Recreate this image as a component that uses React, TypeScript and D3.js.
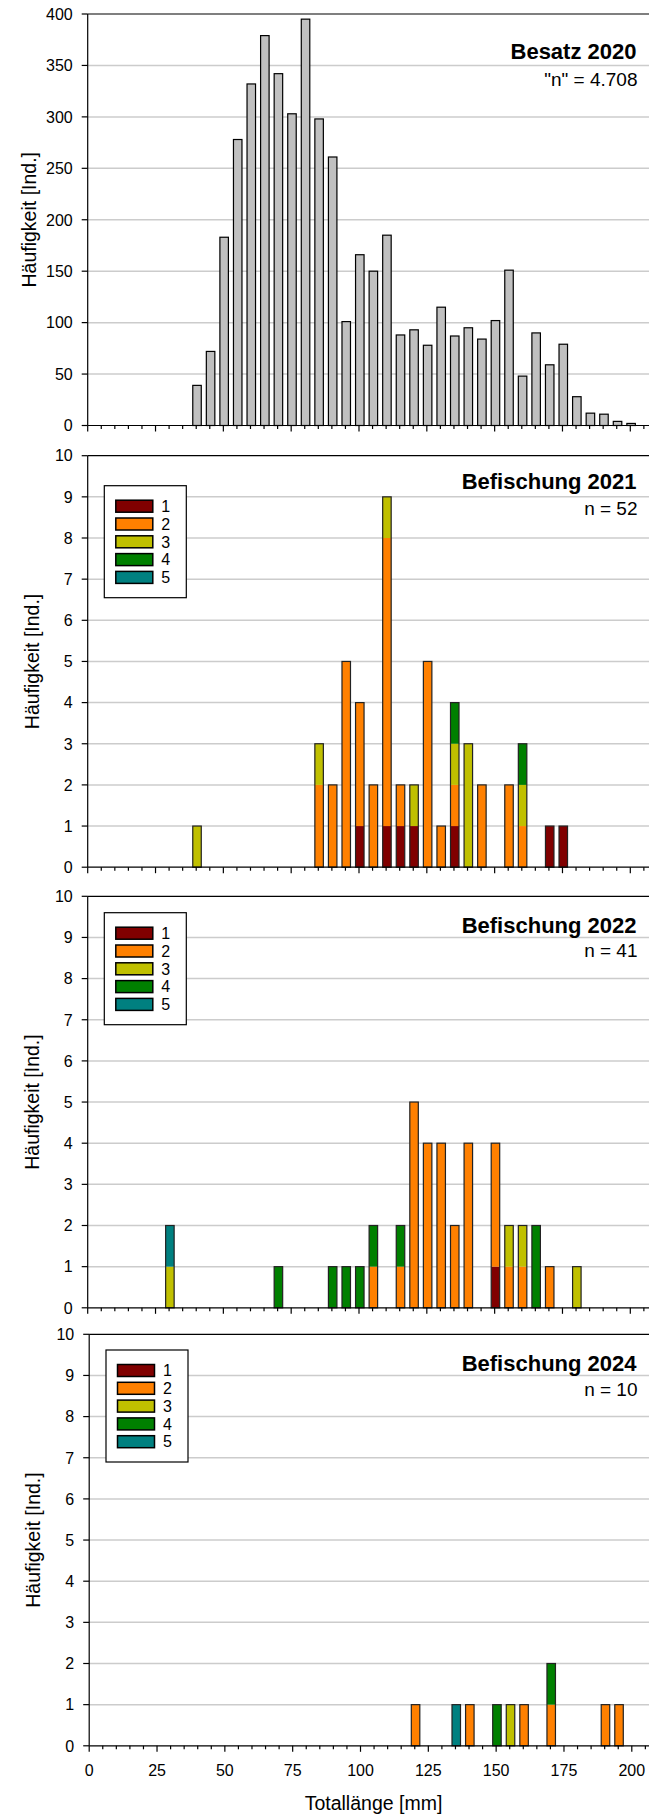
import React from 'react';
import * as d3 from 'd3';

// ---------- DATA ----------
const lengths2020 = [40, 45, 50, 55, 60, 65, 70, 75, 80, 85, 90, 95, 100, 105, 110, 115, 120, 125, 130, 135, 140, 145, 150, 155, 160, 165, 170, 175, 180, 185, 190, 195, 200];
const counts2020 = [39, 72, 183, 278, 332, 379, 342, 303, 395, 298, 261, 101, 166, 150, 185, 88, 93, 78, 115, 87, 95, 84, 102, 151, 48, 90, 59, 79, 28, 12, 11, 4, 2];

const lengths2021 = [40, 85, 90, 95, 100, 105, 110, 115, 120, 125, 130, 135, 140, 145, 155, 160, 170, 175];
const c1_2021 = [0, 0, 0, 0, 1, 0, 1, 1, 1, 0, 0, 1, 0, 0, 0, 0, 1, 1];
const c2_2021 = [0, 2, 2, 5, 3, 2, 7, 1, 0, 5, 1, 1, 0, 2, 2, 1, 0, 0];
const c3_2021 = [1, 1, 0, 0, 0, 0, 1, 0, 1, 0, 0, 1, 3, 0, 0, 1, 0, 0];
const c4_2021 = [0, 0, 0, 0, 0, 0, 0, 0, 0, 0, 0, 1, 0, 0, 0, 1, 0, 0];
const c5_2021 = [0, 0, 0, 0, 0, 0, 0, 0, 0, 0, 0, 0, 0, 0, 0, 0, 0, 0];

const lengths2022 = [30, 70, 90, 95, 100, 105, 115, 120, 125, 130, 135, 140, 150, 155, 160, 165, 170, 180];
const c1_2022 = [0, 0, 0, 0, 0, 0, 0, 0, 0, 0, 0, 0, 1, 0, 0, 0, 0, 0];
const c2_2022 = [0, 0, 0, 0, 0, 1, 1, 5, 4, 4, 2, 4, 3, 1, 1, 0, 1, 0];
const c3_2022 = [1, 0, 0, 0, 0, 0, 0, 0, 0, 0, 0, 0, 0, 1, 1, 0, 0, 1];
const c4_2022 = [0, 1, 1, 1, 1, 1, 1, 0, 0, 0, 0, 0, 0, 0, 0, 2, 0, 0];
const c5_2022 = [1, 0, 0, 0, 0, 0, 0, 0, 0, 0, 0, 0, 0, 0, 0, 0, 0, 0];

const lengths2024 = [120, 135, 140, 150, 155, 160, 170, 190, 195];
const c1_2024 = [0, 0, 0, 0, 0, 0, 0, 0, 0];
const c2_2024 = [1, 0, 1, 0, 0, 1, 1, 1, 1];
const c3_2024 = [0, 0, 0, 0, 1, 0, 0, 0, 0];
const c4_2024 = [0, 0, 0, 1, 0, 0, 1, 0, 0];
const c5_2024 = [0, 1, 0, 0, 0, 0, 0, 0, 0];

const classKeys = ['1', '2', '3', '4', '5'];
const classColors = ['#800000', '#FF8000', '#C0C000', '#008000', '#008080'];

const yTicks2020 = [0, 50, 100, 150, 200, 250, 300, 350, 400];
const yTicksCatch = [0, 1, 2, 3, 4, 5, 6, 7, 8, 9, 10];
const xTickLabels = [0, 25, 50, 75, 100, 125, 150, 175, 200];
const xMinorStep = 5;

const titles = ['Besatz 2020', 'Befischung 2021', 'Befischung 2022', 'Befischung 2024'];
const nLabels = ['"n" = 4.708', 'n = 52', 'n = 41', 'n = 10'];
const yAxisTitle = 'Häufigkeit [Ind.]';
const xAxisTitle = 'Totallänge [mm]';

// ---------- LAYOUT ----------
const W = 649;
const H = 1816;
const X_MAX = 210;
const PX_PER_MM = 2.713;
const PLOT_H = 411.5;
const FONT = '"Liberation Sans", Arial, Helvetica, sans-serif';
const BAR_W = 8.5;

const layout = [
  { top: 14, left: 87.7, titleDy: 45.3, nDy: 72, yTitleX: 28.5, legendDy: 0, legendLeft: 0 },
  { top: 455.7, left: 87.7, titleDy: 33.3, nDy: 59.3, yTitleX: 32.3, legendDy: 30, legendLeft: 104.3 },
  { top: 896.3, left: 87.7, titleDy: 36.4, nDy: 61, yTitleX: 32.3, legendDy: 16.4, legendLeft: 104.3 },
  { top: 1334.3, left: 89.2, titleDy: 36.4, nDy: 61.4, yTitleX: 33, legendDy: 15.7, legendLeft: 106 },
];

function xScaleFor(left: number) {
  return d3.scaleLinear().domain([0, X_MAX]).range([left, left + X_MAX * PX_PER_MM]);
}

function Frame({ idx, y, yTicks }: any) {
  const L = layout[idx];
  return (
    <g>
      {yTicks.slice(1, -1).map((t: number) => (
        <line key={'g' + t} x1={L.left} x2={W} y1={y(t)} y2={y(t)} stroke="#cccccc" strokeWidth={1.5} />
      ))}
      <line x1={L.left} x2={W} y1={L.top} y2={L.top} stroke="#000" strokeWidth={1.2} />
    </g>
  );
}

function Axes({ idx, x, y, yTicks, showXLabels }: any) {
  const L = layout[idx];
  const bottom = L.top + PLOT_H;
  const minor = d3.range(0, X_MAX + 1, xMinorStep);
  return (
    <g fontFamily={FONT}>
      <line x1={L.left} x2={L.left} y1={L.top} y2={bottom} stroke="#000" strokeWidth={1.2} />
      <line x1={L.left} x2={W} y1={bottom} y2={bottom} stroke="#000" strokeWidth={1.2} />
      {yTicks.map((t: number) => (
        <g key={'yt' + t}>
          <line x1={L.left - 6} x2={L.left} y1={y(t)} y2={y(t)} stroke="#000" strokeWidth={1.2} />
          <text x={L.left - 15} y={y(t)} dy="0.36em" textAnchor="end" fontSize={16} fill="#000">{t}</text>
        </g>
      ))}
      {minor.map((m: number) => (
        <line key={'xt' + m} x1={x(m)} x2={x(m)} y1={bottom} y2={bottom + (m % 25 === 0 ? 6 : 3.5)} stroke="#000" strokeWidth={1.2} />
      ))}
      {showXLabels && xTickLabels.map((t: number) => (
        <text key={'xl' + t} x={x(t)} y={bottom + 24} dy="0.36em" textAnchor="middle" fontSize={16} fill="#000">{t}</text>
      ))}
      <text transform={`translate(${L.yTitleX},${L.top + PLOT_H / 2}) rotate(-90)`} dy="0.36em" textAnchor="middle" fontSize={19.5} fill="#000">{yAxisTitle}</text>
      <text x={636.5} y={L.top + L.titleDy} textAnchor="end" fontSize={22} fontWeight="bold" fill="#000">{titles[idx]}</text>
      <text x={637.5} y={L.top + L.nDy} textAnchor="end" fontSize={19} fill="#000">{nLabels[idx]}</text>
      {showXLabels && (
        <text x={373.5} y={bottom + 57} dy="0.36em" textAnchor="middle" fontSize={19.5} fill="#000">{xAxisTitle}</text>
      )}
    </g>
  );
}

function Panel2020() {
  const idx = 0;
  const L = layout[idx];
  const x = xScaleFor(L.left);
  const y = d3.scaleLinear().domain([0, 400]).range([L.top + PLOT_H, L.top]);
  return (
    <g>
      <Frame idx={idx} y={y} yTicks={yTicks2020} />
      {lengths2020.map((len, i) => (
        <rect key={len} x={x(len) + 0.8 - BAR_W / 2} y={y(counts2020[i])} width={BAR_W} height={y(0) - y(counts2020[i])}
          fill="#C0C0C0" stroke="#000" strokeWidth={1.2} />
      ))}
      <Axes idx={idx} x={x} y={y} yTicks={yTicks2020} showXLabels={false} />
    </g>
  );
}

function StackPanel({ idx, lengths, classes, showXLabels }: any) {
  const L = layout[idx];
  const x = xScaleFor(L.left);
  const y = d3.scaleLinear().domain([0, 10]).range([L.top + PLOT_H, L.top]);
  const rows = lengths.map((len: number, i: number) => {
    const r: any = { len };
    classKeys.forEach((k, j) => { r[k] = classes[j][i]; });
    return r;
  });
  const stack = d3.stack<any>().keys(classKeys)(rows);
  const lgTop = L.top + L.legendDy;
  const lgLeft = L.legendLeft;
  return (
    <g>
      <Frame idx={idx} y={y} yTicks={yTicksCatch} />
      {stack.map((layer, j) => (
        <g key={layer.key} fill={classColors[j]}>
          {layer.filter((d: any) => d[1] > d[0]).map((d: any) => (
            <rect key={d.data.len} x={x(d.data.len) + 0.8 - BAR_W / 2} y={y(d[1])} width={BAR_W} height={y(d[0]) - y(d[1])} />
          ))}
        </g>
      ))}
      {rows.map((r: any) => {
        const tot = d3.sum(classKeys, (k) => r[k]);
        return (
          <rect key={'o' + r.len} x={x(r.len) + 0.8 - BAR_W / 2} y={y(tot)} width={BAR_W} height={y(0) - y(tot)}
            fill="none" stroke="#222" strokeWidth={1.2} />
        );
      })}
      <g fontFamily={FONT}>
        <rect x={lgLeft} y={lgTop} width={82} height={112} fill="#fff" stroke="#000" strokeWidth={1.2} />
        {classKeys.map((k, j) => (
          <g key={'lg' + k}>
            <rect x={lgLeft + 11.5} y={lgTop + 14.5 + j * 17.8} width={37} height={12} fill={classColors[j]} stroke="#000" strokeWidth={1.5} />
            <text x={lgLeft + 57} y={lgTop + 20.5 + j * 17.8} dy="0.36em" fontSize={16} fill="#000">{k}</text>
          </g>
        ))}
      </g>
      <Axes idx={idx} x={x} y={y} yTicks={yTicksCatch} showXLabels={showXLabels} />
    </g>
  );
}

export default function App() {
  return (
    <svg width={W} height={H} viewBox={`0 0 ${W} ${H}`} style={{ position: 'absolute', left: 0, top: 0, display: 'block', background: '#fff' }}>
      <rect x={0} y={0} width={W} height={H} fill="#fff" />
      <Panel2020 />
      <StackPanel idx={1} lengths={lengths2021} classes={[c1_2021, c2_2021, c3_2021, c4_2021, c5_2021]} showXLabels={false} />
      <StackPanel idx={2} lengths={lengths2022} classes={[c1_2022, c2_2022, c3_2022, c4_2022, c5_2022]} showXLabels={false} />
      <StackPanel idx={3} lengths={lengths2024} classes={[c1_2024, c2_2024, c3_2024, c4_2024, c5_2024]} showXLabels={true} />
    </svg>
  );
}
